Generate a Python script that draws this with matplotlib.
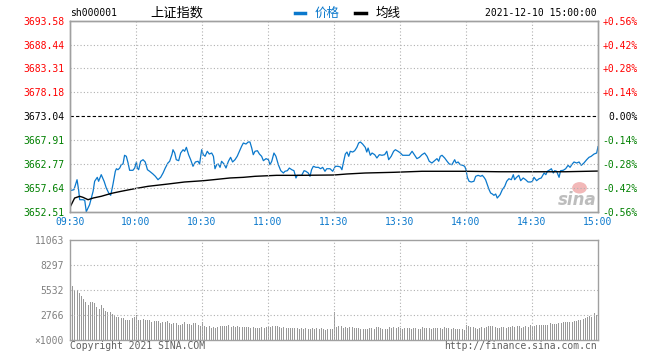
import numpy as np
import matplotlib
matplotlib.use("Agg")
import matplotlib.pyplot as plt
from matplotlib.lines import Line2D
from matplotlib.patches import Ellipse

# ---- data ----
prev_close = 3673.04
price_ticks = [3652.51, 3657.64, 3662.77, 3667.91, 3673.04, 3678.18, 3683.31, 3688.44, 3693.58]
pct_labels = ["-0.56%", "-0.42%", "-0.28%", "-0.14%", "0.00%", "+0.14%", "+0.28%", "+0.42%", "+0.56%"]
time_labels = ["09:30", "10:00", "10:30", "11:00", "11:30", "13:30", "14:00", "14:30", "15:00"]
time_ticks = [0, 30, 60, 90, 120, 150, 180, 210, 240]   # minutes of trading

# price line (minute, price)
t_price = [0, 1.8, 3.2, 3.9, 4.4, 5.9, 6.7, 7.4, 8.9, 10.5, 11.2, 12.4, 13, 14.2, 15.5, 16.5,
           17.6, 18.5, 19.5, 20.6, 21.1, 21.8, 22.6, 23.3, 24.1, 24.8, 25.6, 26.4, 27.1, 28.6,
           29.4, 30.2, 30.6, 31.2, 32.1, 33.2, 34.2, 35.2, 36.2, 37.7, 38.8, 40, 41.2, 42.3,
           43.3, 44.5, 45.3, 46.4, 46.8, 47.6, 48.3, 49.4, 50.3, 51.4, 52.1, 52.9, 53.9, 54.85,
           55.9, 57, 58.2, 58.9, 59.85, 60.6, 61.4, 62.4, 63.3, 64.4, 65.2, 65.9, 66.7, 67.4,
           68.2, 68.9, 70, 70.9, 72, 73, 73.9, 75, 76, 77, 78, 78.8, 80, 81, 81.8, 82.6, 83.3,
           84.1, 85.2, 86.1, 87.1, 87.9, 89.1, 90.2, 90.9, 91.7, 92.7, 93.6, 94.7, 95.8, 97,
           97.7, 98.8, 99.7, 100.8, 101.8, 102.7, 103.3, 104.5, 105.3, 106.4, 107.2, 108.3,
           109.1, 109.8, 110.6, 111.8, 112.9, 113.9, 114.85, 115.9, 116.7, 118.2, 119.4,
           120.6, 121.8, 122.9, 123.6, 124.4, 125.15, 125.9, 126.7, 127.4, 128.5, 129.4, 130.4,
           131.2, 132, 133, 134.2, 134.9, 135.5, 136.5, 137.3, 138.5, 139.5, 140.6, 141.8, 143,
           144, 144.85, 146, 147.1, 147.9, 149.1, 150.2, 151.2, 152.7, 154.2, 155.5, 156.7,
           157.7, 158.8, 160, 161.2, 162.3, 163.3, 164.5, 165.7, 166.8, 167.6, 168.3, 169.1,
           170.3, 171.4, 172.4, 173.6, 174.85, 175.5, 176.4, 177.4, 178.5, 179.4, 180, 180.6,
           181.4, 182.4, 183.6, 184.4, 185.5, 186.7, 187.4, 188.2, 188.9, 189.7, 190.5, 191.2,
           192, 192.7, 193.5, 194.2, 195.5, 196.5, 197.6, 198.5, 199.5, 200.6, 201.5, 202.1,
           203, 204, 204.85, 206, 207.1, 208.2, 209.4, 210.2, 210.9, 212.1, 213.2, 214.2,
           215.5, 216.3, 217, 218.2, 218.8, 219.7, 220.3, 221.2, 222.3, 223, 224.2, 225.3,
           226.4, 227.3, 228.3, 229.1, 230.3, 231.4, 232.4, 233.6, 234.85, 235.9, 236.9,
           238.2, 239.4, 240]
price = [3657.03, 3657.24, 3659.39, 3657.24, 3655.09, 3655.09, 3654.95, 3652.51, 3654.02,
         3656.9, 3659.05, 3659.9, 3659.05, 3660.47, 3659.05, 3657.6, 3656.53, 3656.03,
         3658.31, 3661.2, 3661.75, 3661.54, 3661.9, 3662.62, 3662.77, 3664.64, 3664.42,
         3662.98, 3661.41, 3661.41, 3661.9, 3663.2, 3661.9, 3661.54, 3663.35, 3663.69,
         3663.2, 3661.54, 3661.2, 3660.62, 3660.12, 3659.39, 3659.9, 3660.83, 3661.9,
         3662.98, 3663.35, 3664.91, 3665.84, 3665.13, 3663.69, 3663.48, 3665.13, 3665.84,
         3665.5, 3666.35, 3664.77, 3663.69, 3662.27, 3663.2, 3663.35, 3662.77, 3665.84,
         3664.77, 3664.42, 3665.5, 3664.91, 3665.13, 3664.42, 3661.75, 3662.62, 3662.77,
         3662.05, 3663.35, 3662.77, 3661.9, 3663.35, 3664.2, 3663.2, 3663.69, 3664.42,
         3665.5, 3666.57, 3667.28, 3667.06, 3667.5, 3667.5, 3666.2, 3664.77, 3665.5,
         3665.62, 3664.91, 3664.42, 3663.48, 3663.92, 3663.69, 3662.62, 3663.35, 3665.13,
         3664.42, 3662.62, 3661.33, 3660.83, 3661.2, 3661.33, 3661.9, 3661.54, 3661.33,
         3659.76, 3660.33, 3660.33, 3660.33, 3661.33, 3661.2, 3660.83, 3660.12, 3661.54,
         3662.27, 3662.05, 3662.05, 3661.75, 3662.05, 3661.2, 3661.75, 3661.75, 3661.2,
         3662.27, 3662.27, 3662.13, 3661.54, 3663.35, 3664.91, 3665.34, 3664.42, 3665.5,
         3665.34, 3665.62, 3666.35, 3667.28, 3667.5, 3667.06, 3666.35, 3665.34, 3666.2,
         3664.64, 3665.13, 3664.77, 3664.06, 3664.77, 3664.64, 3664.77, 3665.5, 3663.69,
         3664.42, 3665.5, 3665.84, 3665.5, 3665.13, 3664.64, 3664.64, 3664.64, 3665.5,
         3664.64, 3663.92, 3664.2, 3664.77, 3665.13, 3664.42, 3663.35, 3662.98, 3663.48,
         3663.92, 3663.35, 3664.42, 3664.64, 3664.06, 3663.35, 3662.77, 3662.62, 3663.69,
         3662.98, 3663.2, 3662.62, 3662.48, 3662.27, 3661.54, 3659.9, 3659.05, 3658.9,
         3659.05, 3660.12, 3660.33, 3660.12, 3660.33, 3659.9, 3659.39, 3658.31, 3657.24,
         3656.53, 3656.31, 3656.03, 3656.31, 3655.45, 3656.17, 3657.24, 3657.96, 3659.05,
         3659.6, 3659.39, 3660.47, 3659.39, 3659.9, 3660.33, 3659.18, 3659.76, 3659.39,
         3658.9, 3658.9, 3659.05, 3659.9, 3659.18, 3659.6, 3659.76, 3660.83, 3660.47,
         3661.2, 3661.54, 3661.75, 3660.83, 3661.33, 3661.2, 3659.9, 3661.33, 3661.41,
         3661.75, 3662.48, 3662.05, 3662.77, 3663.2, 3662.98, 3663.2, 3662.48, 3662.98,
         3663.69, 3664.2, 3664.42, 3664.91, 3665.13, 3666.5]

# average line
t_avg = [0, 2.1, 4.4, 5.9, 8.2, 10.5, 14.2, 18.8, 23.3, 29.4, 35.5, 44.5, 52.1, 60.5, 65.2,
         72.7, 78.8, 84.1, 93.9, 104.5, 120, 125.9, 134.2, 147.1, 160, 180, 195, 225, 240]
avg = [3653.46, 3655.45, 3655.82, 3655.6, 3655.09, 3655.45, 3655.82, 3656.45, 3656.9,
       3657.46, 3657.97, 3658.46, 3658.9, 3659.17, 3659.39, 3659.76, 3659.9, 3660.12,
       3660.33, 3660.33, 3660.4, 3660.62, 3660.83, 3660.98, 3661.2, 3661.2, 3661.1,
       3661.1, 3661.25]

# volume per minute (x1000)
volume = [9500, 6000, 5400, 5500, 5200, 4900, 4550, 4250, 3900, 4200,
          4200, 4100, 3650, 3450, 3900, 3550, 3250, 3150, 3150, 2900,
          2750, 2550, 2550, 2450, 2450, 2250, 2200, 2250, 2450, 2600,
          2750, 2250, 2200, 2300, 2250, 2250, 2200, 1950, 2150, 2150,
          2100, 1900, 1950, 2050, 2100, 1850, 1800, 1850, 1900, 1700,
          1700, 1750, 1950, 1800, 1750, 1700, 1850, 1900, 1650, 1600,
          1950, 1550, 1400, 1500, 1350, 1450, 1350, 1400, 1600, 1550,
          1500, 1500, 1650, 1450, 1500, 1400, 1500, 1450, 1400, 1400,
          1400, 1450, 1350, 1450, 1350, 1300, 1350, 1400, 1350, 1450,
          1400, 1450, 1550, 1550, 1500, 1400, 1350, 1400, 1300, 1350,
          1350, 1300, 1350, 1350, 1250, 1300, 1250, 1300, 1250, 1200,
          1300, 1250, 1350, 1250, 1300, 1250, 1150, 1200, 1250, 1200,
          3150, 1400, 1600, 1500, 1300, 1400, 1350, 1400, 1450, 1350,
          1300, 1350, 1250, 1250, 1250, 1250, 1350, 1300, 1250, 1450,
          1400, 1350, 1250, 1200, 1250, 1400, 1300, 1450, 1350, 1400,
          1300, 1250, 1350, 1350, 1300, 1250, 1350, 1300, 1250, 1250,
          1400, 1300, 1350, 1300, 1250, 1350, 1300, 1350, 1300, 1250,
          1400, 1300, 1350, 1250, 1300, 1250, 1250, 1200, 1200, 1150,
          1650, 1550, 1400, 1450, 1300, 1200, 1350, 1400, 1300, 1450,
          1500, 1500, 1500, 1450, 1350, 1300, 1400, 1400, 1350, 1400,
          1450, 1550, 1400, 1550, 1500, 1300, 1450, 1550, 1450, 1700,
          1600, 1500, 1650, 1700, 1650, 1650, 1700, 1700, 1900, 1800,
          1800, 1800, 1900, 1850, 1950, 1950, 2000, 1950, 2050, 2100,
          2100, 2200, 2200, 2350, 2450, 2550, 2700, 2600, 3000, 2800,
          220]
vol_ticks = [0, 2766, 5532, 8297, 11063]
vol_labels = ["×1000", "2766", "5532", "8297", "11063"]

mono = "DejaVu Sans Mono"
cjk = ["Noto Sans CJK SC", "DejaVu Sans"]
blue = "#0a78cc"
red = "#ff0000"
green = "#008000"
frame = "#a0a0a0"
gridc = "#b0b0b0"

fig = plt.figure(figsize=(6.6, 3.6), dpi=100)
ax = fig.add_axes([70/660, 1 - 211.7/360, 528/660, 191/360])
axv = fig.add_axes([70/660, 1 - 340/360, 528/660, 99.7/360])

# price panel
ax.plot(t_price, price, color=blue, lw=0.9)
ax.plot(t_avg, avg, color="black", lw=1.0)
ax.axhline(prev_close, color="black", lw=0.8, ls=(0, (3, 2)))
ax.set_xlim(0, 240)
ax.set_ylim(price_ticks[0], price_ticks[-1])
for v in price_ticks[1:-1]:
    if v != prev_close:
        ax.axhline(v, color=gridc, lw=0.8, ls=(0, (1, 2)))
for t in time_ticks[1:-1]:
    ax.axvline(t, color=gridc, lw=0.8, ls=(0, (1, 2)))

ax.set_yticks(price_ticks)
ax.set_yticklabels([f"{v:.2f}" for v in price_ticks], fontfamily=mono, fontsize=7)
ax.tick_params(axis="y", length=0, pad=4.3)
for i, lab in enumerate(ax.get_yticklabels()):
    lab.set_color(green if i < 4 else ("black" if i == 4 else red))

ax.set_xticks(time_ticks)
ax.set_xticklabels(time_labels, fontfamily=mono, fontsize=7, color=blue)
ax.tick_params(axis="x", length=0, pad=4)

ax2 = ax.twinx()
ax2.set_ylim(price_ticks[0], price_ticks[-1])
ax2.set_yticks(price_ticks)
ax2.set_yticklabels(pct_labels, fontfamily=mono, fontsize=7)
ax2.tick_params(axis="y", length=0, pad=28.8)
for i, lab in enumerate(ax2.get_yticklabels()):
    lab.set_horizontalalignment("right")
    lab.set_color(green if i < 4 else ("black" if i == 4 else red))

for a in (ax, ax2, axv):
    for s in a.spines.values():
        s.set_color(frame)
        s.set_linewidth(1.0)

# sina watermark
ax.add_patch(Ellipse((0.965, 0.125), 0.028, 0.06, transform=ax.transAxes,
                     color="#f2b8b8", lw=0))
ax.text(0.998, 0.015, "sina", transform=ax.transAxes, ha="right", va="bottom",
        fontsize=12, fontweight="bold", style="italic", color="#bdbdbd")

# volume panel
x_vol = np.arange(len(volume))
axv.vlines(x_vol, 0, volume, colors="#999999", lw=0.7, antialiased=False)
axv.set_xlim(0, 240)
axv.set_ylim(0, 11063)
for v in vol_ticks[1:-1]:
    axv.axhline(v, color=gridc, lw=0.8, ls=(0, (1, 2)))
for t in time_ticks[1:-1]:
    axv.axvline(t, color=gridc, lw=0.8, ls=(0, (1, 2)))
axv.set_xticks([])
axv.set_yticks(vol_ticks)
axv.set_yticklabels(vol_labels, fontfamily=mono, fontsize=7, color="#808080")
axv.tick_params(axis="y", length=0, pad=4.3)

# header
hy = 1 - 13/360
fig.text(70/660, hy, "sh000001", fontfamily=mono, fontsize=7, ha="left", va="center")
fig.text(150/660, hy, "上证指数", family=cjk, fontsize=9.5, ha="left", va="center")
fig.add_artist(Line2D([295/660, 305/660], [hy, hy], color=blue, lw=2.5))
fig.text(315/660, hy, "价格", family=cjk, fontsize=9, color=blue, ha="left", va="center")
fig.add_artist(Line2D([355/660, 366/660], [hy, hy], color="black", lw=2.5))
fig.text(376/660, hy, "均线", family=cjk, fontsize=9, ha="left", va="center")
fig.text(597/660, hy, "2021-12-10 15:00:00", fontfamily=mono, fontsize=7, ha="right", va="center")

# footer
fy = 1 - 346/360
fig.text(70/660, fy, "Copyright 2021 SINA.COM", fontfamily=mono, fontsize=7,
         color="#606060", ha="left", va="center")
fig.text(597/660, fy, "http://finance.sina.com.cn", fontfamily=mono, fontsize=7,
         color="#606060", ha="right", va="center")

fig.savefig("out.png", dpi=100, facecolor="white")
